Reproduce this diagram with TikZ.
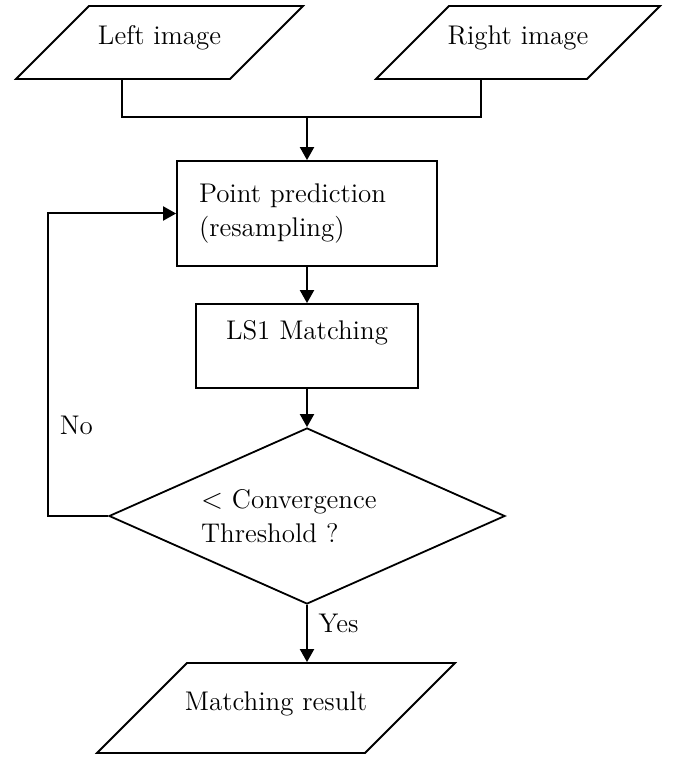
\documentclass[tikz,border=0pt]{standalone}
\usetikzlibrary{shapes.geometric,arrows.meta}
\begin{document}
\begin{tikzpicture}[x=0.5pt, y=-0.5pt,
font=\fontsize{13.5}{17}\selectfont,
donnee/.style={trapezium, trapezium left angle=45, trapezium right angle=135, trapezium stretches body=true, draw=black, line width=0.9pt, text height=9.5pt},
bloc/.style={rectangle, draw=black, line width=0.9pt},
test/.style={diamond, draw=black, line width=0.9pt, shape aspect=2.25, minimum width=198pt, minimum height=88pt, inner sep=0pt, text width=106pt, align=left},
fleche/.style={-{Triangle[length=6.5pt,width=7pt]}, line width=1pt},
lien/.style={line width=0.9pt},
]
    % Cadre
    \useasboundingbox (0,0) rectangle (675,758);

    % Définition des blocs
    \node [donnee, minimum width=143.5pt, minimum height=36.5pt, text depth=7.6pt, inner ysep=9.7pt, inner xsep=-3pt] (gauche) at (159.5,42.5) {Left image};
    \node [donnee, minimum width=142pt, minimum height=36.5pt, text depth=7.6pt, inner ysep=9.7pt, inner xsep=-3pt, right of=gauche, node distance=179.25pt] (droite) {Right image};
    \node [bloc, minimum height=52.5pt, text width=108pt, inner xsep=11pt, align=left] (prediction) at (307,213.5) {Point prediction\\(resampling)};
    \node [bloc, minimum width=111pt, minimum height=42pt, text depth=15.6pt, below of=prediction, node distance=66.25pt] (ls) {LS1 Matching};
    \node [test, below of=ls, node distance=85pt] (convergence) {$<$ Convergence\\Threshold ?};
    \node [donnee, minimum width=179pt, minimum height=45pt, text depth=6.6pt, inner ysep=14.45pt, inner xsep=-6pt, below of=convergence, node distance=96pt, xshift=-15.5pt] (resultat) {Matching result};
    \coordinate (jonction) at (prediction.north |- 0,117);

    % Définition des liens
    \draw [lien] (gauche.bottom side) -- (gauche.bottom side |- jonction) -- (droite.bottom side |- jonction) -- (droite.bottom side);
    \draw [fleche] (jonction) -- (prediction.north);
    \draw [fleche] (prediction) -- (ls);
    \draw [fleche] (ls) -- (convergence);
    \draw [fleche] (convergence.south) -- node[pos=0.32, right=2pt] (oui) {Yes} (convergence.south |- resultat.north);
    \draw [fleche] (convergence.west) -- ++(-60,0) |- node[pos=0.15, right=2pt] (non) {No} (prediction.west);
\end{tikzpicture}
\end{document}
